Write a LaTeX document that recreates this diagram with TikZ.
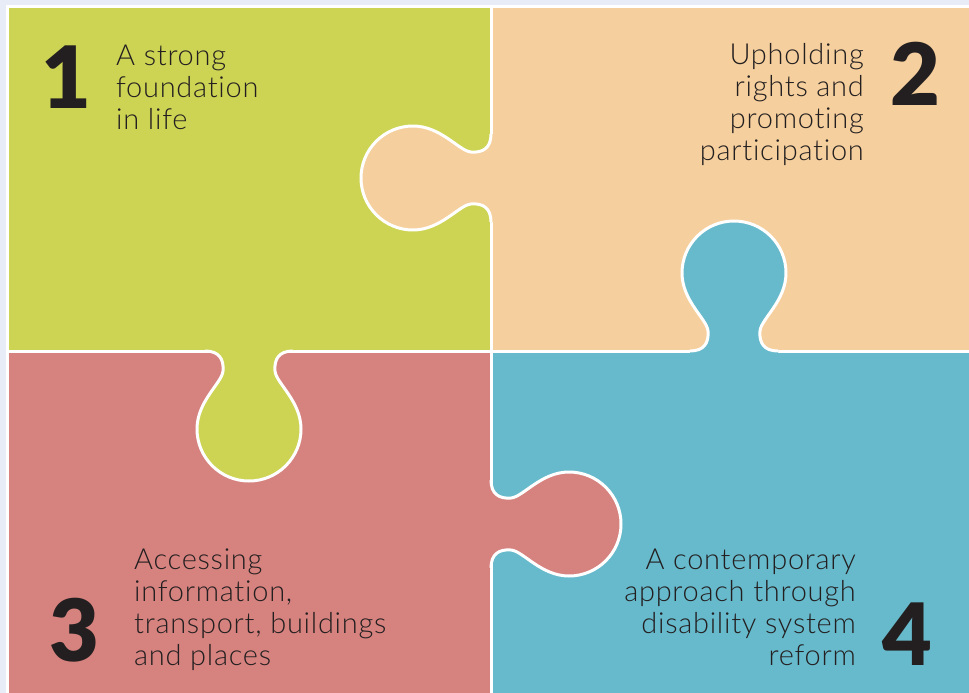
\documentclass[tikz,border=0pt]{standalone}
\usepackage{fontspec}
\setmainfont{Lato}
\newfontfamily\lightfont{Lato Light}[LetterSpace=2.5, Ligatures=NoCommon]
\newfontfamily\numfont{Lato Black}
\usetikzlibrary{positioning}
\definecolor{lime}{HTML}{CDD454}
\definecolor{peach}{HTML}{F5CF9D}
\definecolor{rose}{HTML}{D6837F}
\definecolor{teal}{HTML}{67BACC}
\definecolor{lavender}{HTML}{E8ECF6}
\definecolor{ink}{HTML}{231F20}
\tikzset{num/.style = {font=\numfont\fontsize{86}{86}\selectfont, text=ink, inner sep=0}}
\tikzset{lbl/.style = {font=\lightfont\fontsize{29}{31.7}\selectfont, text=ink, inner sep=0}}
\tikzset{cut/.style = {draw=white, line width=3, line join=round}}
\newcommand{\tabline}{(-44,0) .. controls (-30,0) and (-25,8) .. (-26,20) .. controls (-27,32) and (-52,50) .. (-52,78) arc[start angle=180, end angle=0, radius=52] .. controls (52,50) and (27,32) .. (26,20) .. controls (25,8) and (30,0) .. (44,0)}
\newcommand{\puzzletab}[4]{%
  \begin{scope}[shift={(#1,#2)}, rotate=#3]
    \fill [#4] \tabline -- (44,-3) -- (-44,-3) -- cycle;
    \draw [cut] \tabline;
  \end{scope}}

\begin{document}
\begin{tikzpicture}[x=1pt, y=-1pt]
      \useasboundingbox (0,0) rectangle (969,693);
      \fill [lavender] (0,0) rectangle (969,693);
      \fill [white] (5.5,5.5) rectangle (969,693);
      \fill [lime] (8.5,8) rectangle (491,351);
      \fill [peach] (491,8) rectangle (969,351);
      \fill [rose] (8.5,351) rectangle (491,693);
      \fill [teal] (491,351) rectangle (969,693);
      \draw [cut] (8.5,351) -- (969,351);
      \draw [cut] (491,8) -- (491,693);

      \puzzletab{249}{351}{0}{lime}
      \puzzletab{734}{351}{180}{teal}
      \puzzletab{491}{178}{-90}{peach}
      \puzzletab{491}{524}{90}{rose}

      % numbers
      \node [num, anchor = base] (n1) at (66, 108) {1};
      \node [num, anchor = base] (n2) at (915.5, 106) {2};
      \node [num, anchor = base] (n3) at (74.5, 661) {3};
      \node [num, anchor = base] (n4) at (907.5, 665) {4};
      % texts, anchored at the last line
      \node [lbl, anchor = base west, align = left] (t1) at (116, 129) {A strong\\foundation\\in life};
      \node [lbl, anchor = base east, align = right] (t2) at (864, 160) {Upholding\\rights and\\promoting\\participation};
      \node [lbl, anchor = base west, align = left] (t3) at (134, 665) {Accessing\\information,\\transport, buildings\\and places};
      \node [lbl, anchor = base east, align = right] (t4) at (856, 665) {A contemporary\\approach through\\disability system\\reform};
    \end{tikzpicture}
\end{document}
